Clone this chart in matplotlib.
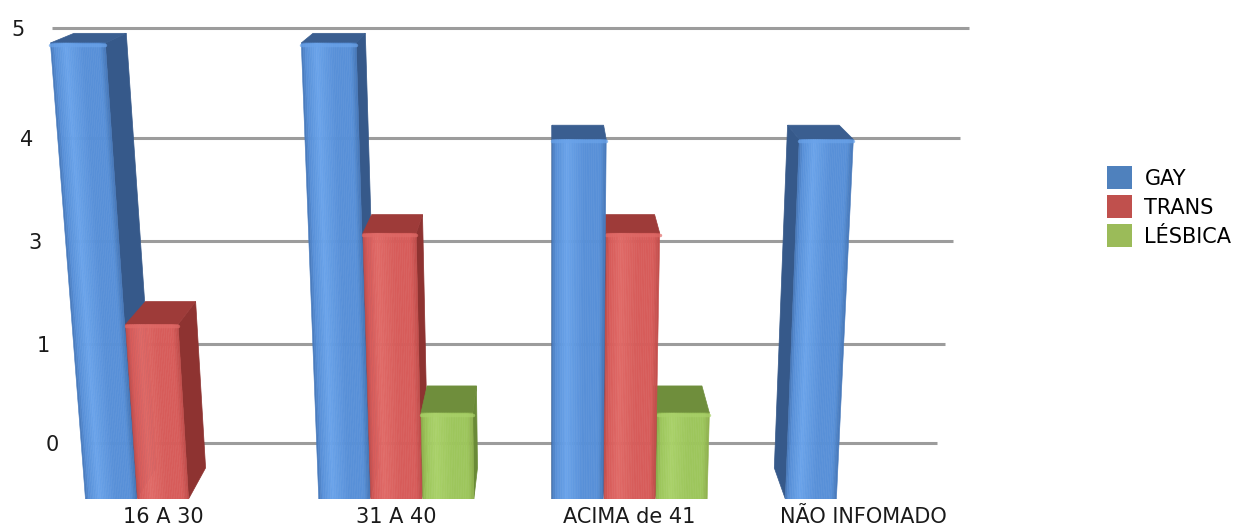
import numpy as np
import matplotlib.pyplot as plt
from matplotlib.transforms import Transform
from matplotlib.patches import Polygon, Patch
from matplotlib.colors import LinearSegmentedColormap

# --- dados ---
categories = ["16 A 30", "31 A 40", "ACIMA de 41", "NÃO INFOMADO"]
series_names = ["GAY", "TRANS", "LÉSBICA"]
gay = [5, 5, 4, 4]
trans = [2, 3, 3, 0]
lesbica = [0, 1, 1, 0]

# linhas de grade (na parede do fundo) e os rótulos que aparecem nelas
ytick_levels = [0.66, 1.78, 2.92, 4.01, 5.15]
ytick_labels = ["0", "1", "3", "4", "5"]

series_values = [gay, trans, lesbica]

# cores de cada face das barras
faces = {
    "GAY":     dict(legend="#4F81BD", edge="#4677B8", base="#5890D8", light="#6AA3EA",
                    side="#36598A", top="#3A5E90"),
    "TRANS":   dict(legend="#C0504D", edge="#C04D4B", base="#D75C5A", light="#E06A67",
                    side="#8E3331", top="#9E3B39"),
    "LÉSBICA": dict(legend="#9BBB59", edge="#8DB04C", base="#9DC65C", light="#A9D169",
                    side="#6A8A37", top="#6F8E3C"),
}

# --- perspectiva ---
FLOOR_X0 = 163.0      # centro do primeiro grupo, no chão (px)
GROUP_DX = 233.3      # distância entre grupos (px)
VANISH_X = 551.0      # ponto de fuga horizontal
EYE_H = 662.0         # altura do olho acima do chão
DEPTH = 0.047         # profundidade das barras
SLOT = 0.223
WIDTH = 0.219


class Perspective(Transform):
    input_dims = output_dims = 2

    def __init__(self, spread):
        super().__init__()
        self.spread = spread

    def transform_non_affine(self, values):
        xy = np.asarray(values, dtype=float).reshape(-1, 2)
        h = 84.7 * xy[:, 1] + 1.3 * xy[:, 1] ** 2
        x = FLOOR_X0 + GROUP_DX * xy[:, 0]
        x = VANISH_X + (x - VANISH_X) * (1 + self.spread * h)
        return np.column_stack([x, h])


fig = plt.figure(figsize=(12.38, 5.27), dpi=100)
ax = fig.add_axes([0, 28 / 527, 1, 499 / 527])
ax.set_xlim(0, 1238)
ax.set_ylim(0, 499)
ax.set_autoscale_on(False)
for sp in ax.spines.values():
    sp.set_visible(False)
ax.set_yticks([])

bar_persp = Perspective(1.65e-4)
wall_persp = Perspective(2.0e-4)
bar_tr = bar_persp + ax.transData
wall_tr = wall_persp + ax.transData

# grade
for lvl in ytick_levels:
    ax.plot([-0.29, 3.30], [lvl, lvl], color="#9c9c9c", lw=2.2,
            transform=wall_tr, zorder=1, solid_capstyle="butt")

for lvl, lab in zip(ytick_levels, ytick_labels):
    ax.text(-0.457, lvl, lab, transform=bar_tr, ha="center",
            va="center_baseline", fontsize=15, color="#1a1a1a")

# barras: as mais distantes do ponto de fuga primeiro
pieces = []
for k, (name, vals) in enumerate(zip(series_names, series_values)):
    for i, v in enumerate(vals):
        if v > 0:
            pieces.append((i + (k - 1) * SLOT, v, name))
pieces.sort(key=lambda p: -abs(FLOOR_X0 + GROUP_DX * p[0] - VANISH_X))

eye = np.array([VANISH_X, EYE_H])
n_strips = 30
for z, (xc, v, name) in enumerate(pieces):
    c = faces[name]
    zb = 2 + z
    left, right = xc - WIDTH / 2, xc + WIDTH / 2
    front = bar_persp.transform([[left, 0], [right, 0], [right, v], [left, v]])
    back = front + DEPTH * (eye - front)

    top = [front[3], front[2], back[2], back[3]]
    if FLOOR_X0 + GROUP_DX * xc < VANISH_X:
        side = [front[1], front[2], back[2], back[1]]
    else:
        side = [front[0], front[3], back[3], back[0]]
    ax.add_patch(Polygon(side, closed=True, fc=c["side"], ec=c["side"], lw=0.5, zorder=zb))
    ax.add_patch(Polygon(top, closed=True, fc=c["top"], ec=c["top"], lw=0.5, zorder=zb))

    cmap = LinearSegmentedColormap.from_list(
        name, [(0, c["edge"]), (0.08, c["base"]), (0.28, c["light"]),
               (0.6, c["base"]), (0.9, c["base"]), (1, c["edge"])])
    xs = np.linspace(left, right, n_strips + 1)
    tone = cmap((xs[:-1] - left + 0.5 * (xs[1] - xs[0])) / WIDTH)
    ax.bar(xs[:-1], v, width=xs[1] - xs[0], align="edge", color=tone,
           edgecolor=tone, lw=0.4, transform=bar_tr, zorder=zb + 0.5)
    # aresta superior arredondada
    ax.plot([front[3][0], front[2][0]], [front[3][1] - 1.5, front[2][1] - 1.5],
            color=c["light"], lw=2.5, alpha=0.7, zorder=zb + 0.6,
            solid_capstyle="round")

# categorias
ax.set_xticks(FLOOR_X0 + GROUP_DX * np.arange(len(categories)))
ax.set_xticklabels(categories)
ax.tick_params(axis="x", length=0, pad=5.5, labelsize=15, labelcolor="#1a1a1a")

handles = [Patch(facecolor=faces[n]["legend"], edgecolor="none") for n in series_names]
fig.legend(handles, series_names, loc="upper left",
           bbox_to_anchor=(1107 / 1238, 1 - 166 / 527), frameon=False,
           fontsize=15, handlelength=1.2, handleheight=1.35, labelspacing=0.27,
           handletextpad=0.6, borderpad=0, borderaxespad=0)

fig.savefig("out.png", dpi=100, facecolor="white")
